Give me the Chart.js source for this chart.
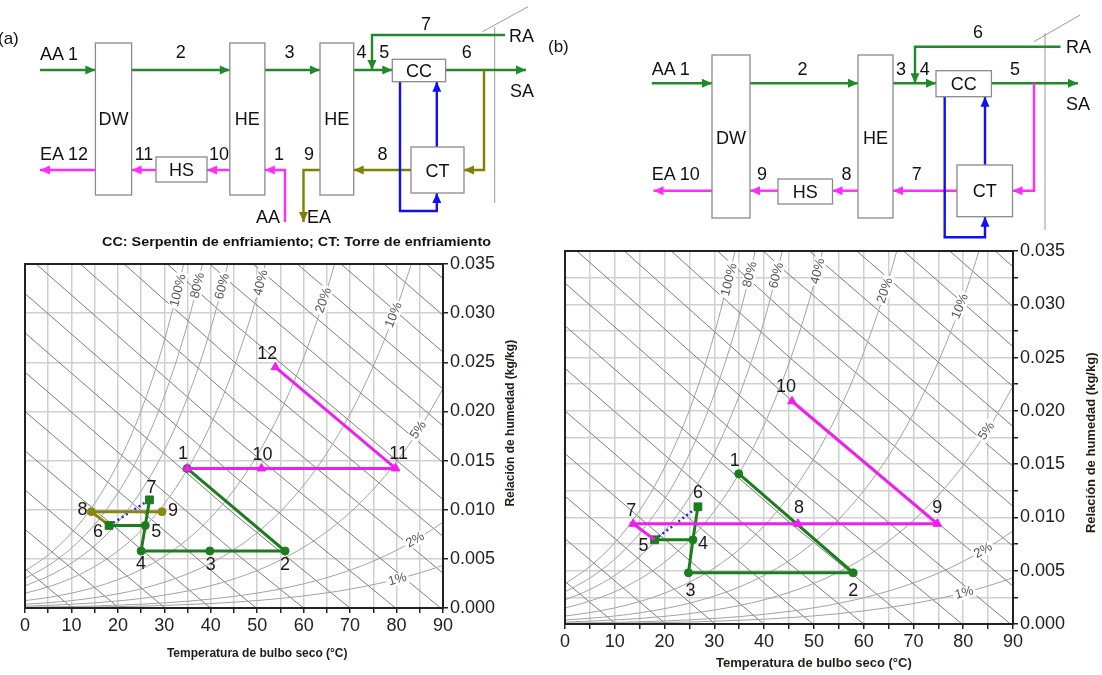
<!DOCTYPE html>
<html>
<head>
<meta charset="utf-8">
<script src="https://cdn.jsdelivr.net/npm/chart.js@4.4.1/dist/chart.umd.min.js"></script>
<style>
  html, body { margin: 0; padding: 0; background: #fff; }
  body { width: 1102px; height: 675px; position: relative; overflow: hidden; font-family: Arial, "Liberation Sans", sans-serif; }
  .cw { position: absolute; }
  #schem { position: absolute; left: 0; top: 0; pointer-events: none; }
</style>
</head>
<body>
<div class="cw" style="left:0;top:250px"><canvas id="chartA" width="545" height="425"></canvas></div>
<div class="cw" style="left:545px;top:237px"><canvas id="chartB" width="557" height="438"></canvas></div>
<svg id="schem" width="1102" height="250"></svg>
<script>
// ---- axes ----
const xTickValues = [0, 10, 20, 30, 40, 50, 60, 70, 80, 90];
const xTickLabels = ['0', '10', '20', '30', '40', '50', '60', '70', '80', '90'];
const yTickValues = [0, 0.005, 0.010, 0.015, 0.020, 0.025, 0.030, 0.035];
const yTickLabels = ['0.000', '0.005', '0.010', '0.015', '0.020', '0.025', '0.030', '0.035'];

// ---- relative humidity curves (humidity ratio, kg/kg, read at every 5 °C) ----
const rhTemps = [0, 5, 10, 15, 20, 25, 30, 35, 40, 45, 50, 55, 60, 65, 70, 75, 80, 85, 90];
const rhLevels = ['100%', '80%', '60%', '40%', '20%', '10%', '5%', '2%', '1%'];
const rh100 = [0.00377, 0.00540, 0.00763, 0.01065, 0.01470, 0.02008, 0.02721, 0.03658];
const rh80 = [0.00302, 0.00431, 0.00609, 0.00849, 0.01170, 0.01596, 0.02158, 0.02892, 0.03851];
const rh60 = [0.00226, 0.00323, 0.00456, 0.00634, 0.00873, 0.01190, 0.01604, 0.02144, 0.02844, 0.03746];
const rh40 = [0.00150, 0.00215, 0.00303, 0.00422, 0.00580, 0.00788, 0.01060, 0.01413, 0.01868, 0.02448, 0.03188, 0.04127];
const rh20 = [0.00075, 0.00107, 0.00151, 0.00210, 0.00289, 0.00392, 0.00526, 0.00699, 0.00920, 0.01201, 0.01554, 0.01997, 0.02548, 0.03233, 0.04080];
const rh10 = [0.00038, 0.00054, 0.00075, 0.00105, 0.00144, 0.00195, 0.00262, 0.00347, 0.00456, 0.00594, 0.00767, 0.00983, 0.01249, 0.01576, 0.01975, 0.02462, 0.03052, 0.03765];
const rh5 = [0.00019, 0.00027, 0.00038, 0.00052, 0.00072, 0.00097, 0.00131, 0.00173, 0.00227, 0.00296, 0.00381, 0.00488, 0.00618, 0.00778, 0.00972, 0.01207, 0.01489, 0.01827, 0.02230];
const rh2 = [0.00008, 0.00011, 0.00015, 0.00021, 0.00029, 0.00039, 0.00052, 0.00069, 0.00091, 0.00118, 0.00152, 0.00194, 0.00246, 0.00309, 0.00385, 0.00477, 0.00587, 0.00718, 0.00873];
const rh1 = [0.00004, 0.00005, 0.00008, 0.00010, 0.00014, 0.00019, 0.00026, 0.00035, 0.00045, 0.00059, 0.00076, 0.00097, 0.00123, 0.00154, 0.00192, 0.00238, 0.00292, 0.00357, 0.00434];
const rhCurves = [rh100, rh80, rh60, rh40, rh20, rh10, rh5, rh2, rh1];
const rhLabelT = [33.0, 37.2, 42.5, 50.8, 64.3, 79.4, 84.7, 84.0, 80.2];
const rhLabelW = [0.0323, 0.0328, 0.0327, 0.0331, 0.0313, 0.0298, 0.0181, 0.0069, 0.0029];

// ---- enthalpy lines, 10..180 kJ/kg (humidity ratio at 0, 45 and 90 °C) ----
const enthalpyTemps = [0, 45, 90];
const enthalpyLines = [
  [0.00400, -0.01364, -0.03018], [0.00800, -0.00978, -0.02643], [0.01200, -0.00591, -0.02268],
  [0.01599, -0.00204, -0.01894], [0.01999, 0.00183, -0.01519], [0.02399, 0.00570, -0.01144],
  [0.02799, 0.00957, -0.00769], [0.03199, 0.01344, -0.00395], [0.03599, 0.01731, -0.00020],
  [0.03998, 0.02118, 0.00355], [0.04398, 0.02505, 0.00729], [0.04798, 0.02892, 0.01104],
  [0.05198, 0.03279, 0.01479], [0.05598, 0.03665, 0.01853], [0.05998, 0.04052, 0.02228],
  [0.06397, 0.04439, 0.02603], [0.06797, 0.04826, 0.02978], [0.07197, 0.05213, 0.03352]
];

// ---- (a) states ----
const statesA = ['1', '2', '3', '4', '5', '6', '7', '8', '9', '10', '11', '12'];
const tempA = [34.9, 56.0, 39.8, 25.0, 25.9, 18.1, 26.8, 14.3, 29.5, 50.9, 79.8, 53.9];
const humA = [0.0142, 0.0058, 0.0058, 0.0058, 0.0084, 0.0084, 0.0110, 0.0098, 0.0098, 0.0142, 0.0142, 0.0245];

// ---- (b) states ----
const statesB = ['1', '2', '3', '4', '5', '6', '7', '8', '9', '10'];
const tempB = [34.9, 57.9, 24.8, 25.7, 18.0, 26.7, 13.7, 46.8, 74.8, 45.6];
const humB = [0.0141, 0.0048, 0.0048, 0.0079, 0.0079, 0.0110, 0.0094, 0.0094, 0.0094, 0.0209];

const FONT = 'Arial, "Liberation Sans", sans-serif';
const GREEN = '#1b7d1b', MAGENTA = '#f01ef0', OLIVE = '#878711', BLUE = '#2424e6';
Chart.defaults.font.family = FONT;

// decorations: RH labels, state numbers, frame, axis titles
const decor = {
  id: 'decor',
  afterDatasetsDraw(chart, args, o) {
    const { ctx, chartArea: a, scales: { x, y } } = chart;
    ctx.save();
    ctx.beginPath();
    ctx.rect(a.left, a.top, a.right - a.left, a.bottom - a.top);
    ctx.clip();
    ctx.font = '13px ' + FONT;
    ctx.textAlign = 'center';
    ctx.textBaseline = 'middle';
    rhLevels.forEach((lab, i) => {
      const curve = rhCurves[i];
      const j = Math.min(Math.floor(rhLabelT[i] / 5), curve.length - 2);
      const x1 = x.getPixelForValue(rhTemps[j]), y1 = y.getPixelForValue(curve[j]);
      const x2 = x.getPixelForValue(rhTemps[j + 1]), y2 = y.getPixelForValue(curve[j + 1]);
      ctx.save();
      ctx.translate(x.getPixelForValue(rhLabelT[i]), y.getPixelForValue(rhLabelW[i]));
      ctx.rotate(Math.atan2(y2 - y1, x2 - x1));
      const w = ctx.measureText(lab).width;
      ctx.fillStyle = '#fff';
      ctx.fillRect(-w / 2 - 2, -6, w + 4, 12);
      ctx.fillStyle = '#555';
      ctx.fillText(lab, 0, 0);
      ctx.restore();
    });
    ctx.restore();

    // state numbers
    ctx.save();
    ctx.font = '18px ' + FONT;
    ctx.fillStyle = '#1a1a1a';
    ctx.textAlign = 'center';
    ctx.textBaseline = 'middle';
    o.names.forEach((n, i) => {
      ctx.fillText(n, x.getPixelForValue(o.temps[i]) + o.offsets[i][0], y.getPixelForValue(o.hums[i]) + o.offsets[i][1]);
    });
    ctx.restore();
  },
  afterDraw(chart, args, o) {
    const { ctx, chartArea: a, scales: { x, y } } = chart;
    ctx.save();
    ctx.strokeStyle = '#222';
    ctx.lineWidth = 2;
    ctx.strokeRect(a.left, a.top, a.right - a.left, a.bottom - a.top);
    ctx.fillStyle = '#231d16';
    ctx.font = 'bold ' + o.titleSize + 'px ' + FONT;
    ctx.textAlign = 'center';
    ctx.textBaseline = 'middle';
    ctx.fillText('Temperatura de bulbo seco (°C)', x.getPixelForValue(o.xTitleT), a.bottom + o.xTitleDy);
    ctx.translate(a.right + o.yTitleDx, y.getPixelForValue(o.yTitleW));
    ctx.rotate(-Math.PI / 2);
    ctx.fillText('Relación de humedad (kg/kg)', 0, 0);
    ctx.restore();
  }
};

function buildChart(id, cfg) {
  const datasets = [];
  enthalpyLines.forEach(w => datasets.push({
    data: enthalpyTemps.map((t, i) => ({ x: t, y: w[i] })),
    showLine: true, borderColor: '#7d7d7d', borderWidth: 1, pointRadius: 0, order: 20
  }));
  rhCurves.forEach(w => datasets.push({
    data: w.map((v, i) => ({ x: rhTemps[i], y: v })),
    showLine: true, borderColor: '#a2a2a2', borderWidth: 1, pointRadius: 0,
    cubicInterpolationMode: 'monotone', order: 15
  }));
  cfg.paths.forEach(p => datasets.push({
    data: p.states.map(n => ({ x: cfg.temps[n - 1], y: cfg.hums[n - 1] })),
    showLine: true, borderColor: p.color, backgroundColor: p.color,
    borderWidth: p.width || 3, borderDash: p.dash || [],
    pointStyle: p.markers.map(m => m || 'circle'),
    pointRadius: p.markers.map(m => m === null ? 0 : (m === 'triangle' ? 5 : (m === 'rect' ? 5.5 : 4))),
    pointBorderWidth: 1, order: p.order
  }));

  return new Chart(document.getElementById(id), {
    type: 'scatter',
    data: { datasets },
    options: {
      responsive: false,
      animation: false,
      events: [],
      layout: { padding: { left: cfg.padL, top: cfg.padT, right: 0, bottom: 0 } },
      plugins: {
        legend: { display: false },
        tooltip: { enabled: false },
        decor: {
          names: cfg.names, temps: cfg.temps, hums: cfg.hums, offsets: cfg.offsets,
          titleSize: cfg.titleSize, xTitleT: 50, xTitleDy: cfg.xTitleDy,
          yTitleDx: cfg.yTitleDx, yTitleW: cfg.yTitleW
        }
      },
      scales: {
        x: {
          type: 'linear', position: 'bottom', min: 0, max: 90,
          ticks: {
            stepSize: 5, autoSkip: false, maxRotation: 0, padding: 2, color: '#222',
            font: { size: 18 },
            callback: v => { const i = xTickValues.indexOf(v); return i < 0 ? '' : xTickLabels[i]; }
          },
          grid: { color: '#d0d0d0', lineWidth: 1.5, tickLength: 5, tickColor: '#222', tickWidth: 1.5 },
          border: { color: '#222', width: 2 },
          afterFit: s => { s.height = cfg.xAxisH; }
        },
        y: {
          type: 'linear', position: 'right', min: 0, max: 0.035,
          ticks: {
            stepSize: 0.0025, padding: 2, color: '#222', font: { size: 18 },
            callback: v => { const i = yTickValues.findIndex(t => Math.abs(t - v) < 1e-7); return i < 0 ? '' : yTickLabels[i]; }
          },
          grid: { color: '#d0d0d0', lineWidth: 1.5, tickLength: 5, tickColor: '#222', tickWidth: 1.5 },
          border: { color: '#222', width: 2 },
          afterFit: s => { s.width = cfg.yAxisW; }
        }
      }
    },
    plugins: [decor]
  });
}

buildChart('chartA', {
  names: statesA, temps: tempA, hums: humA,
  padL: 25, padT: 14, xAxisH: 67, yAxisW: 102,
  titleSize: 12, xTitleDy: 45.5, yTitleDx: 68, yTitleW: 0.0188,
  offsets: [[-4, -14], [0, 14], [1, 14], [0, 13], [11, 7], [-11, 7], [2, -12], [-9, -2], [11, -1], [1, -13], [3, -14], [-8, -13]],
  paths: [
    { states: [1, 10, 11, 12], color: MAGENTA, markers: ['triangle', 'triangle', 'triangle', 'triangle'], order: 1 },
    { states: [1, 2, 3, 4, 5, 7], color: GREEN, markers: ['circle', 'circle', 'circle', 'circle', 'circle', 'rect'], order: 2 },
    { states: [5, 6], color: GREEN, markers: [null, 'rect'], order: 2 },
    { states: [6, 8, 9], color: OLIVE, markers: [null, 'circle', 'circle'], order: 3 },
    { states: [6, 7], color: BLUE, markers: [null, null], dash: [2, 3], width: 2.5, order: 4 }
  ]
});

buildChart('chartB', {
  names: statesB, temps: tempB, hums: humB,
  padL: 20, padT: 14, xAxisH: 51, yAxisW: 89,
  titleSize: 13, xTitleDy: 39.5, yTitleDx: 78, yTitleW: 0.0170,
  offsets: [[-4, -13], [0, 18], [2, 18], [10, 4], [-11, 6], [0, -14], [-2, -13], [1, -16], [0, -16], [-6, -14]],
  paths: [
    { states: [5, 7, 8, 9, 10], color: MAGENTA, markers: [null, 'triangle', 'triangle', 'triangle', 'triangle'], order: 1 },
    { states: [1, 2, 3, 4, 6], color: GREEN, markers: ['circle', 'circle', 'circle', 'circle', 'rect'], order: 2 },
    { states: [4, 5], color: GREEN, markers: [null, 'rect'], order: 2 },
    { states: [5, 6], color: BLUE, markers: [null, null], dash: [2, 3], width: 2.5, order: 4 }
  ]
});

// ---- process schematics ----
const svg = document.getElementById('schem');
const NS = 'http://www.w3.org/2000/svg';
function el(tag, attrs, text) {
  const e = document.createElementNS(NS, tag);
  for (const k in attrs) e.setAttribute(k, attrs[k]);
  if (text !== undefined) e.textContent = text;
  svg.appendChild(e);
  return e;
}
function box(x1, y1, x2, y2, label, cy) {
  el('rect', { x: x1, y: y1, width: x2 - x1, height: y2 - y1, fill: '#fff', stroke: '#8a8a8a', 'stroke-width': 1.3 });
  el('text', { x: (x1 + x2) / 2, y: (cy || (y1 + y2) / 2) + 6.5, 'text-anchor': 'middle', 'font-size': 18, fill: '#111' }, label);
}
function flow(pts, color) {
  el('polyline', { points: pts.map(p => p.join(',')).join(' '), fill: 'none', stroke: color, 'stroke-width': 2.4 });
  const [xa, ya] = pts[pts.length - 2], [xb, yb] = pts[pts.length - 1];
  const ang = Math.atan2(yb - ya, xb - xa), L = 10, H = 4.5;
  const c = Math.cos(ang), s = Math.sin(ang);
  const p1 = [xb - L * c - H * s, yb - L * s + H * c], p2 = [xb - L * c + H * s, yb - L * s - H * c];
  el('polygon', { points: [[xb, yb], p1, p2].map(p => p.join(',')).join(' '), fill: color });
}
function txt(x, y, s, anchor, size, bold) {
  return el('text', { x, y, 'text-anchor': anchor || 'start', 'font-size': size || 18, 'font-weight': bold ? 'bold' : 'normal', fill: '#111' }, s);
}
function thin(x1, y1, x2, y2) {
  el('line', { x1, y1, x2, y2, stroke: '#9a9a9a', 'stroke-width': 1 });
}

const SG = '#208a2a', SM = '#ff2bff', SO = '#7f7f00', SB = '#1010f0';

// (a)
thin(482.5, 31.7, 528, 6.7); thin(494.7, 27, 494.7, 203);
flow([[40, 70], [95.4, 70]], SG);
flow([[131.6, 70], [229.8, 70]], SG);
flow([[264.9, 70], [320, 70]], SG);
flow([[353.7, 70], [392.3, 70]], SG);
flow([[445.6, 70], [526, 70]], SG);
flow([[505, 35], [372, 35], [372, 70]], SG);
flow([[484, 70], [484, 170], [464, 170]], SO);
flow([[411, 170], [353.7, 170]], SO);
flow([[320, 170], [303.5, 170], [303.5, 222]], SO);
flow([[400, 81.7], [400, 211], [436.8, 211], [436.8, 193]], SB);
flow([[436.8, 147], [436.8, 81.7]], SB);
flow([[285, 222], [285, 170], [264.9, 170]], SM);
flow([[229.8, 170], [207, 170]], SM);
flow([[156, 170], [131.6, 170]], SM);
flow([[95.4, 170], [40, 170]], SM);
box(95.4, 43, 131.6, 195, 'DW', 118);
box(229.8, 43, 264.9, 195, 'HE', 118);
box(320, 43, 353.7, 195, 'HE', 118);
box(392.3, 59.3, 445.6, 81.7, 'CC');
box(411, 147, 464, 193, 'CT');
box(156, 157, 207, 182, 'HS');
txt(-2, 44, '(a)', 'start', 17);
txt(40, 60, 'AA 1');
txt(180.7, 58, '2', 'middle'); txt(289.5, 58, '3', 'middle'); txt(361.4, 58, '4', 'middle');
txt(384.2, 58, '5', 'middle'); txt(466.7, 58, '6', 'middle'); txt(426, 30, '7', 'middle');
txt(509, 42, 'RA'); txt(510, 97, 'SA');
txt(40, 160, 'EA 12');
txt(144, 160, '11', 'middle'); txt(219, 160, '10', 'middle'); txt(279, 160, '1', 'middle');
txt(309, 160, '9', 'middle'); txt(382.5, 160, '8', 'middle');
txt(256, 223, 'AA'); txt(307, 223, 'EA');
const cap = txt(102, 246, 'CC: Serpentin de enfriamiento; CT: Torre de enfriamiento', 'start', 12.5, true);
cap.setAttribute('textLength', 389);
cap.setAttribute('lengthAdjust', 'spacingAndGlyphs');

// (b)
thin(1034, 41.7, 1080, 15); thin(1045, 33, 1045, 230);
flow([[651.8, 83.3], [712, 83.3]], SG);
flow([[750, 83.3], [858, 83.3]], SG);
flow([[893, 83.3], [936, 83.3]], SG);
flow([[991.4, 83.3], [1078, 83.3]], SG);
flow([[1060.5, 46.7], [915, 46.7], [915, 83.3]], SG);
flow([[1034, 83.3], [1034, 190.7], [1012.5, 190.7]], SM);
flow([[957, 190.7], [893, 190.7]], SM);
flow([[858, 190.7], [832.5, 190.7]], SM);
flow([[778, 190.7], [750, 190.7]], SM);
flow([[712, 190.7], [653.5, 190.7]], SM);
flow([[944.7, 96.7], [944.7, 237.3], [985, 237.3], [985, 216.7]], SB);
flow([[985, 165], [985, 96.7]], SB);
box(712, 55, 750, 218, 'DW', 137);
box(858, 55, 893, 218, 'HE', 137);
box(936, 70.7, 991.4, 96.7, 'CC');
box(957, 165, 1012.5, 216.7, 'CT');
box(778, 179, 832.5, 204, 'HS');
txt(548, 52, '(b)', 'start', 17);
txt(651.8, 75, 'AA 1');
txt(802.6, 75, '2', 'middle'); txt(901, 75, '3', 'middle'); txt(924.7, 75, '4', 'middle');
txt(1015, 75, '5', 'middle'); txt(978, 38, '6', 'middle');
txt(1066, 53, 'RA'); txt(1066, 110, 'SA');
txt(651.8, 180, 'EA 10');
txt(762, 180, '9', 'middle'); txt(846.5, 180, '8', 'middle'); txt(916.7, 180, '7', 'middle');
</script>
</body>
</html>
